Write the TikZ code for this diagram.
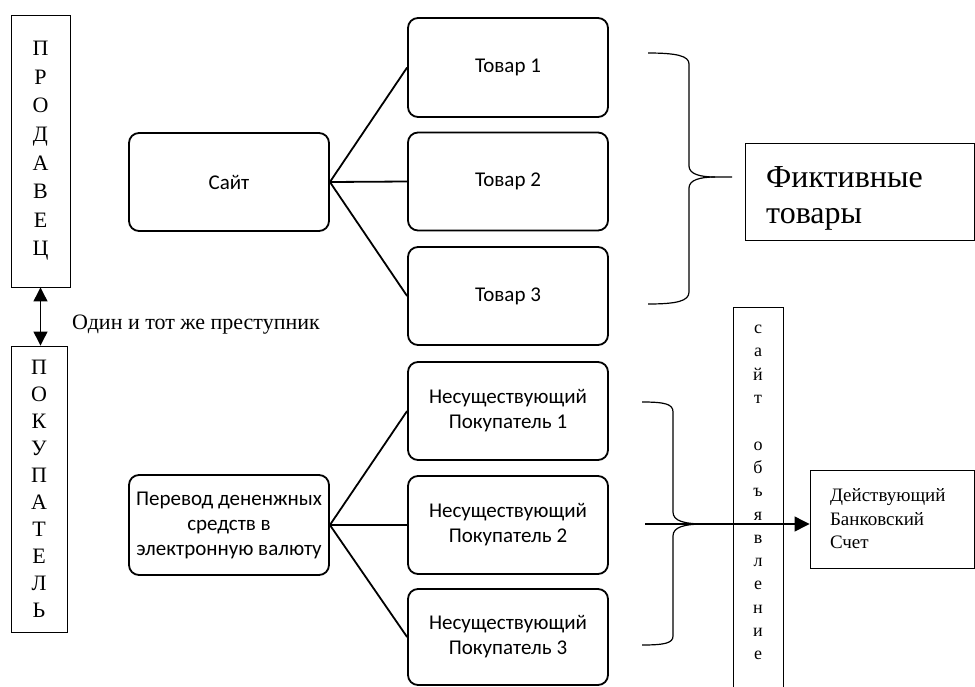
\documentclass[tikz,border=0pt]{standalone}
\usepackage{fontspec}
\setmainfont{Liberation Serif}
\newfontfamily\calib{Carlito}
\usetikzlibrary{arrows.meta}
\begin{document}
\begin{tikzpicture}[x=1pt,y=-1pt,
  rbox/.style={draw, rounded corners=10pt, line width=1.8pt, minimum width=200pt, minimum height=98pt, inner sep=0pt, align=center, font=\calib\fontsize{21}{25}\selectfont},
  pbox/.style={draw, line width=0.9pt, inner sep=0pt},
  conn/.style={line width=1.8pt},
  bracepath/.style={line width=1.2pt}
]
\useasboundingbox (0,0) rectangle (975,686);

% left vertical boxes
\node[pbox, minimum width=59pt, minimum height=272pt, align=center, font=\fontsize{22}{28.6}\selectfont] (seller) at (40.5,151) {П\\Р\\О\\Д\\А\\В\\Е\\Ц};
\node[pbox, minimum width=56pt, minimum height=286pt, align=center, font=\fontsize{22}{27}\selectfont] (buyer) at (39,489) {П\\О\\К\\У\\П\\А\\Т\\Е\\Л\\Ь};
\draw[line width=1.2pt, {Triangle[length=14pt,width=14pt]}-{Triangle[length=14pt,width=14pt]}] (seller.south) -- (seller.south |- buyer.north);
\node[anchor=west, inner sep=0pt, font=\fontsize{22}{26}\selectfont] (same) at (72,325) {Один и тот же преступник};

% top group
\node[rbox] (site) at (229,182) {Сайт};
\node[rbox, minimum height=99pt] (t1) at (508,67.5) {Товар 1};
\node[rbox] (t2) at (508,181.5) {Товар 2};
\node[rbox] (t3) at (508,296) {Товар 3};
\draw[conn] (site.east) -- (t1.west);
\draw[conn] (site.east) -- (t2.west);
\draw[conn] (site.east) -- (t3.west);

% bottom group
\node[rbox, minimum height=100pt] (transfer) at (229,525) {Перевод дененжных\\средств в\\электронную валюту};
\node[rbox] (n1) at (508,411) {Несуществующий\\Покупатель 1};
\node[rbox] (n2) at (508,525) {Несуществующий\\Покупатель 2};
\node[rbox, minimum height=96pt] (n3) at (508,637) {Несуществующий\\Покупатель 3};
\draw[conn] (transfer.east) -- (n1.west);
\draw[conn] (transfer.east) -- (n2.west);
\draw[conn] (transfer.east) -- (n3.west);

% top brace
\draw[bracepath] (648,53) .. controls (677,53) and (689,56) .. (689,64) -- (689,166) .. controls (689,174) and (700,177) .. (715,177) -- (732,177);
\draw[bracepath] (715,177) .. controls (700,177) and (689,180) .. (689,188) -- (689,292) .. controls (689,301) and (677,304) .. (648,304);

% fictitious goods
\node[pbox, minimum width=229pt, minimum height=97pt] (fict) at (859.5,191.5) {};
\node[anchor=north west, inner sep=0pt, align=left, font=\fontsize{32}{36}\selectfont] (ficttext) at (766,166) {Фиктивные\\товары};

% vertical advert box
\node[pbox, minimum width=50pt, minimum height=383pt] (adv) at (758,498.5) {};
\node[anchor=north, inner sep=0pt, align=center, font=\fontsize{18}{23.3}\selectfont] (advtext) at (758,325) {с\\а\\й\\т\\\mbox{}\\о\\б\\ъ\\я\\в\\л\\е\\н\\и\\е};

% lower brace
\draw[bracepath] (642,402) .. controls (665,402) and (673,404) .. (673,412) -- (673,512) .. controls (673,521) and (684,524) .. (705,524);
\draw[bracepath] (705,524) .. controls (684,524) and (673,527) .. (673,536) -- (673,636) .. controls (673,643) and (665,645) .. (642,645);

% bank account
\node[pbox, minimum width=164pt, minimum height=98pt, text width=124pt, inner xsep=20pt, align=left, font=\fontsize{19}{23.5}\selectfont] (bank) at (892,519) {Действующий\\Банковский\\Счет};
\coordinate (arrstart) at (645,524);
\draw[line width=1.2pt, -{Triangle[length=15pt,width=15pt]}] (arrstart) -- (arrstart -| bank.west);
\end{tikzpicture}
\end{document}
